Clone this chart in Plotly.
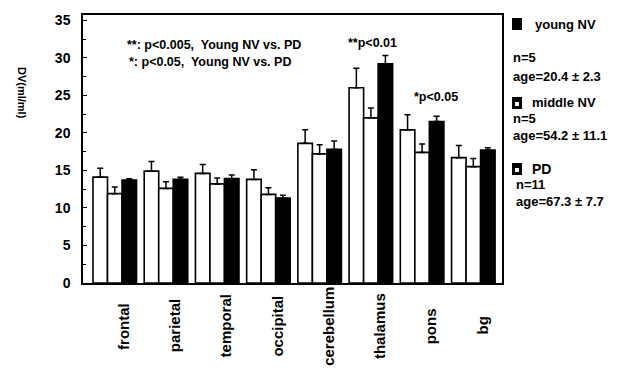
import plotly.graph_objects as go

categories = ["frontal", "parietal", "temporal", "occipital", "cerebellum", "thalamus", "pons", "bg"]
series_names = ["young NV", "middle NV", "PD"]
young_vals = [14.1, 14.9, 14.6, 13.8, 18.6, 26.0, 20.4, 16.7]
young_err_top = [15.3, 16.2, 15.8, 15.1, 20.4, 28.6, 22.4, 18.3]
middle_vals = [11.9, 12.6, 13.2, 11.8, 17.2, 22.0, 17.4, 15.5]
middle_err_top = [12.8, 13.5, 14.0, 12.7, 18.4, 23.3, 18.5, 16.6]
pd_vals = [13.7, 13.8, 13.9, 11.3, 17.8, 29.2, 21.5, 17.7]
pd_err_top = [13.9, 14.1, 14.4, 11.7, 18.9, 30.3, 22.2, 18.0]
y_ticks = [0, 5, 10, 15, 20, 25, 30, 35]
legend_info = [("young NV", "n=5", "age=20.4 ± 2.3"),
               ("middle NV", "n=5", "age=54.2 ± 11.1"),
               ("PD", "n=11", "age=67.3 ± 7.7")]

W, H = 624, 371
L, R, T, B = 83, 122, 15, 88
PW, PH = W - L - R, H - T - B

def px(x):
    return (x - L) / PW

def py(y):
    return (H - B - y) / PH

FONT = "Liberation Sans, Arial, sans-serif"
xs = list(range(len(categories)))

fig = go.Figure()
fills = ["white", "white", "black"]
for name, vals, tops, fill in zip(series_names,
                                  [young_vals, middle_vals, pd_vals],
                                  [young_err_top, middle_err_top, pd_err_top],
                                  fills):
    fig.add_trace(go.Bar(
        x=xs, y=vals, name=name,
        marker=dict(color=fill, line=dict(color="black", width=1.6)),
        error_y=dict(type="data", symmetric=False,
                     array=[t - v for t, v in zip(tops, vals)],
                     arrayminus=[0] * len(vals),
                     color="black", thickness=1.5, width=3),
        showlegend=False,
    ))

annotations = []
# category labels
for i, c in enumerate(categories):
    annotations.append(dict(x=i + 0.16, xref="x", y=py(326), yref="paper",
                            text=c, textangle=-90, showarrow=False,
                            xanchor="center", yanchor="middle",
                            font=dict(family=FONT, size=15, color="black", weight="bold")))
# y-axis title
annotations.append(dict(x=px(22), y=py(93), xref="paper", yref="paper",
                        text="DV(ml/ml)", textangle=90, showarrow=False,
                        xanchor="center", yanchor="middle",
                        font=dict(family=FONT, size=11, color="black", weight="bold")))
# significance notes
notes = [("**: p<0.005,  Young NV vs. PD", 125, 45),
         ("*: p<0.05,  Young NV vs. PD", 127, 62),
         ("**p<0.01", 346, 43),
         ("*p<0.05", 412, 97)]
for txt, x, y in notes:
    annotations.append(dict(x=px(x), y=py(y), xref="paper", yref="paper",
                            text=txt, showarrow=False, xanchor="left", yanchor="middle",
                            font=dict(family=FONT, size=12.5, color="black", weight="bold")))

# legend block
leg_rows = [(24, 57, 76), (103, 118, 135), (169, 184, 201)]
shapes = []
for k, ((nm, n, age), (y0, y1, y2)) in enumerate(zip(legend_info, leg_rows)):
    sx0, sx1 = 512, 522
    shapes.append(dict(type="rect", xref="paper", yref="paper",
                       x0=px(sx0), x1=px(sx1), y0=py(y0 + 6), y1=py(y0 - 6),
                       fillcolor="black", line=dict(width=0)))
    if k > 0:
        shapes.append(dict(type="rect", xref="paper", yref="paper",
                           x0=px(sx0 + 3), x1=px(sx1 - 3), y0=py(y0 + 3), y1=py(y0 - 1),
                           fillcolor="white", line=dict(width=0)))
    nx = 533 if k == 0 else 530
    annotations.append(dict(x=px(nx), y=py(y0), xref="paper", yref="paper", text=nm,
                            showarrow=False, xanchor="left", yanchor="middle",
                            font=dict(family=FONT, size=13 if k < 2 else 14, color="black", weight="bold")))
    ox = 511 if k < 2 else 514
    for txt, yy in ((n, y1), (age, y2)):
        annotations.append(dict(x=px(ox), y=py(yy), xref="paper", yref="paper", text=txt,
                                showarrow=False, xanchor="left", yanchor="middle",
                                font=dict(family=FONT, size=13, color="black", weight="bold")))

fig.update_layout(
    width=W, height=H,
    margin=dict(l=L, r=R, t=T, b=B, pad=0),
    paper_bgcolor="white", plot_bgcolor="white",
    barmode="group", bargap=0.15, bargroupgap=0,
    annotations=annotations, shapes=shapes,
    font=dict(family=FONT, color="black"),
)
fig.update_xaxes(range=[-0.62, 7.56], showticklabels=False, ticks="",
                 showline=True, linecolor="black", linewidth=1.5, mirror=True,
                 showgrid=False, zeroline=False, tickvals=xs)
fig.update_yaxes(range=[0, 35.7], tickvals=y_ticks, ticks="inside", ticklen=4,
                 tickcolor="black", tickwidth=1.2,
                 minor=dict(dtick=2.5, ticks="inside", ticklen=3, tickcolor="black"),
                 showline=True, linecolor="black", linewidth=1.5, mirror=True,
                 showgrid=False, zeroline=False, ticklabelstandoff=8,
                 tickfont=dict(family=FONT, size=14, color="black", weight="bold"))

fig.write_html("out.html")
